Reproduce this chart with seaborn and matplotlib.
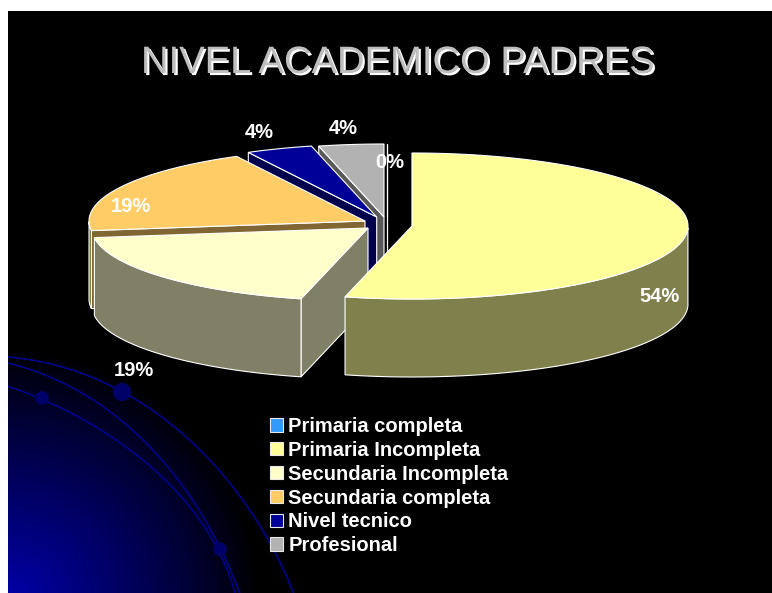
import numpy as np
import seaborn as sns
import matplotlib
matplotlib.use('Agg')
import matplotlib.pyplot as plt
import matplotlib.patheffects as pe
from matplotlib.patches import Patch, Rectangle

# Data
categories = ['Primaria completa', 'Primaria Incompleta', 'Secundaria Incompleta',
              'Secundaria completa', 'Nivel tecnico', 'Profesional']
values = [0.0, 53.9, 19.0, 19.4, 3.9, 3.8]
colors = ['#3399FF', '#FFFF99', '#FFFFCC', '#FFCC66', '#000099', '#B2B2B2']
title = 'NIVEL ACADEMICO PADRES'

# Where each exploded slice has its apex and where its label sits (pixels)
apex_x = [387, 412, 368, 365, 376.7, 384]
apex_y = [217, 226, 228, 221, 217, 217]
label_x = [390, 660, 134, 131, 259, 343]
label_y = [162, 296, 371, 207, 133, 128]

rx, ry, depth = 276, 73, 78

sns.set_theme(style='white')
plt.rcParams['font.family'] = ['Liberation Sans', 'DejaVu Sans']
palette = sns.color_palette(colors)

fig = plt.figure(figsize=(7.72, 5.93), dpi=100, facecolor='white')
ax = fig.add_axes([0, 0, 1, 1])

# Slide background: black with a blue glow in the lower left corner
gx, gy = np.meshgrid(np.arange(8, 772), np.arange(11, 593))
glow = np.clip(1 - np.hypot(gx - 8, gy - 600) / 250, 0, 1) ** 0.9
bg = np.zeros(gx.shape + (3,))
bg[..., 2] = 0.66 * glow
ax.imshow(bg, extent=(8, 772, 593, 11), aspect='auto', zorder=0)

# Decorative arcs and dots
slide = Rectangle((8, 11), 764, 582, transform=ax.transData)
arcs = [([8, 122, 170, 233, 270, 293], [357, 392, 422, 490, 540, 593]),
        ([8, 93, 143, 200, 220, 240], [363, 400, 440, 510, 550, 593]),
        ([8, 42, 123, 173, 220, 234], [387, 398, 445, 490, 549, 593])]
for xs, ys in arcs:
    t = np.r_[0, np.cumsum(np.hypot(np.diff(xs), np.diff(ys)))]
    tt = np.linspace(0, t[-1], 120)
    line, = ax.plot(np.polyval(np.polyfit(t, xs, 3), tt), np.polyval(np.polyfit(t, ys, 3), tt),
                    color='#00008C', lw=1.2, zorder=1)
    line.set_clip_path(slide)
ax.scatter([122, 42, 220], [392, 398, 549], s=[170, 95, 95], color='#00006A', lw=0, zorder=2)


def rim(cx, cy, a):
    return cx + rx * np.cos(a), cy - ry * np.sin(a)


# Angles run clockwise from 12 o'clock
ends = 90 - 360 * np.cumsum(values) / np.sum(values)
starts = np.r_[90, ends[:-1]]

# Back to front so the near slices cover the far ones
order = [0, 5, 4, 3, 2, 1]
for z, i in enumerate(order):
    cx, cy = apex_x[i], apex_y[i]
    top = palette[i]
    wall = tuple(c * 0.5 for c in top)
    kw = dict(edgecolor='white', lw=0.8, zorder=3 + z)
    a = np.radians(np.linspace(starts[i], ends[i], 120))
    px, py = rim(cx, cy, a)

    # cut faces, only those turned to the viewer
    if np.cos(a[0]) < 1e-9:
        ax.fill([cx, px[0], px[0], cx], [cy, py[0], py[0] + depth, cy + depth], facecolor=wall, **kw)
    if np.cos(a[-1]) > 1e-9:
        ax.fill([cx, px[-1], px[-1], cx], [cy, py[-1], py[-1] + depth, cy + depth], facecolor=wall, **kw)

    # outer wall, same thing
    front = np.sin(a) <= 0
    if front.any():
        fx, fy = px[front], py[front]
        ax.fill(np.r_[fx, fx[::-1]], np.r_[fy, fy[::-1] + depth], facecolor=wall, **kw)

    ax.fill(np.r_[cx, px], np.r_[cy, py], facecolor=top, **kw)

# Percent labels
for v, x, y in zip(values, label_x, label_y):
    ax.text(x, y, f'{v:.0f}%', color='white', fontsize=14.5, fontweight='bold',
            ha='center', va='center', zorder=20)

ax.text(398, 63, title, color='#BEBEBE', fontsize=27.5, ha='center', va='center', zorder=20,
        path_effects=[pe.withSimplePatchShadow(offset=(1.5, -1.5), shadow_rgbFace='white', alpha=1)])

handles = [Patch(facecolor=c, edgecolor='#E8E8E8', lw=0.8) for c in palette]
ax.legend(handles, categories, loc='upper left', bbox_to_anchor=(270, 417), bbox_transform=ax.transData,
          frameon=False, labelcolor='white', prop={'size': 14.5, 'weight': 'bold'},
          handlelength=0.65, handleheight=0.65, handletextpad=0.25, labelspacing=0.24,
          borderpad=0, borderaxespad=0)

ax.set_xlim(0, 772)
ax.set_ylim(593, 0)
ax.axis('off')
fig.savefig('out.png', dpi=100, facecolor='white')
